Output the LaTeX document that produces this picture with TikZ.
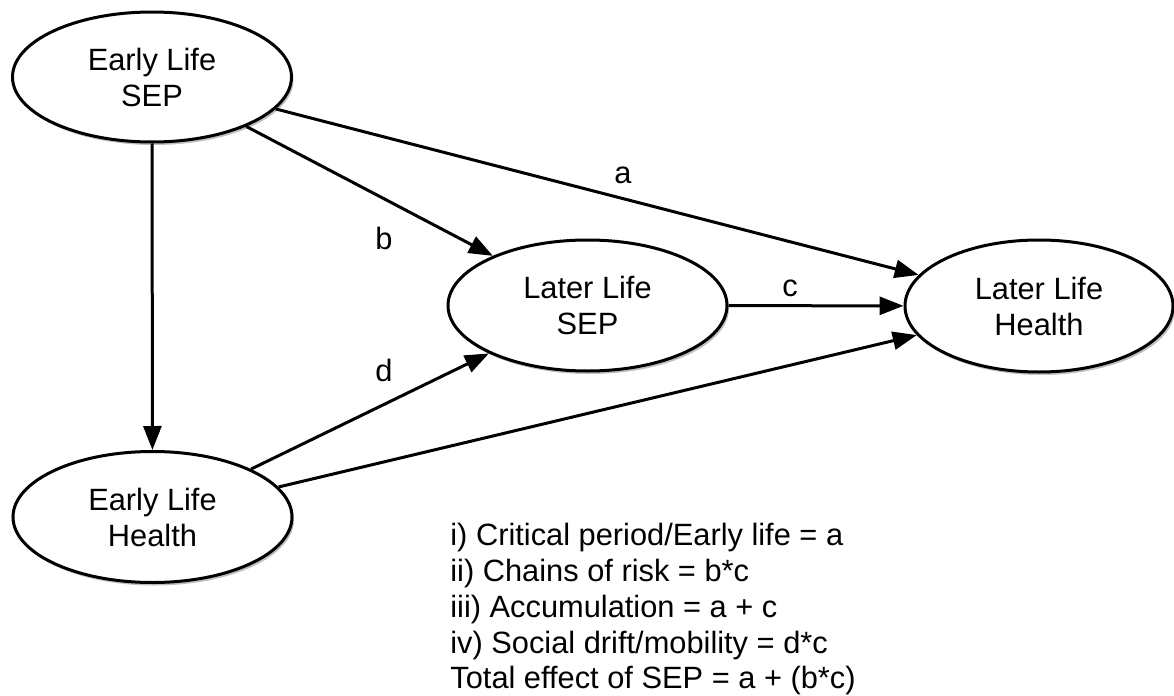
\documentclass[tikz,border=0pt]{standalone}
\usepackage{fontspec}
\setmainfont{Liberation Sans}
\usetikzlibrary{shapes.geometric,arrows.meta,shadows}
\begin{document}
\begin{tikzpicture}[x=0.5pt,y=-0.5pt,
  every node/.style={font=\fontsize{15.4pt}{18pt}\selectfont},
  oval/.style={ellipse, draw=black, line width=1.5pt, fill=white, inner sep=0pt,
    align=center, minimum width=#1,
    drop shadow={shadow xshift=1pt, shadow yshift=-1.5pt, opacity=0.25, fill=black}},
  oval/.default=140pt,
  conn/.style={line width=1.5pt, -{Triangle[length=12pt,width=9pt]}},
  lbl/.style={inner sep=0pt},
  txt/.style={anchor=base west, inner sep=0pt}]
\useasboundingbox (0,0) rectangle (1174,696);
\node[oval=139.5pt, minimum height=65pt] (esep) at (152,77) {Early Life\\SEP};
\node[oval=139.5pt, minimum height=65.5pt] (ehealth) at (152.5,517) {Early Life\\Health};
\node[oval=139.5pt, minimum height=65.5pt] (lsep) at (587.5,305.5) {Later Life\\SEP};
\node[oval=134pt, minimum height=66pt] (lhealth) at (1039,306) {Later Life\\Health};
\draw[conn] (esep) -- (ehealth);
\draw[conn] (esep) -- (lhealth);
\draw[conn] (esep) -- (lsep);
\draw[conn] (lsep) -- (lhealth);
\draw[conn] (ehealth) -- (lsep);
\draw[conn] (ehealth) -- (lhealth);
\node[lbl] (la) at (623,175) {a};
\node[lbl] (lb) at (384,238) {b};
\node[lbl] (lc) at (790,288) {c};
\node[lbl] (ld) at (384,370) {d};
\node[txt] (t1) at (450,545) {i) Critical period/Early life = a};
\node[txt] (t2) at (450,581) {ii) Chains of risk = b*c};
\node[txt] (t3) at (450,617) {iii) Accumulation = a + c};
\node[txt] (t4) at (450,653) {iv) Social drift/mobility = d*c};
\node[txt] (t5) at (450,688) {Total effect of SEP = a + (b*c)};
\end{tikzpicture}
\end{document}
